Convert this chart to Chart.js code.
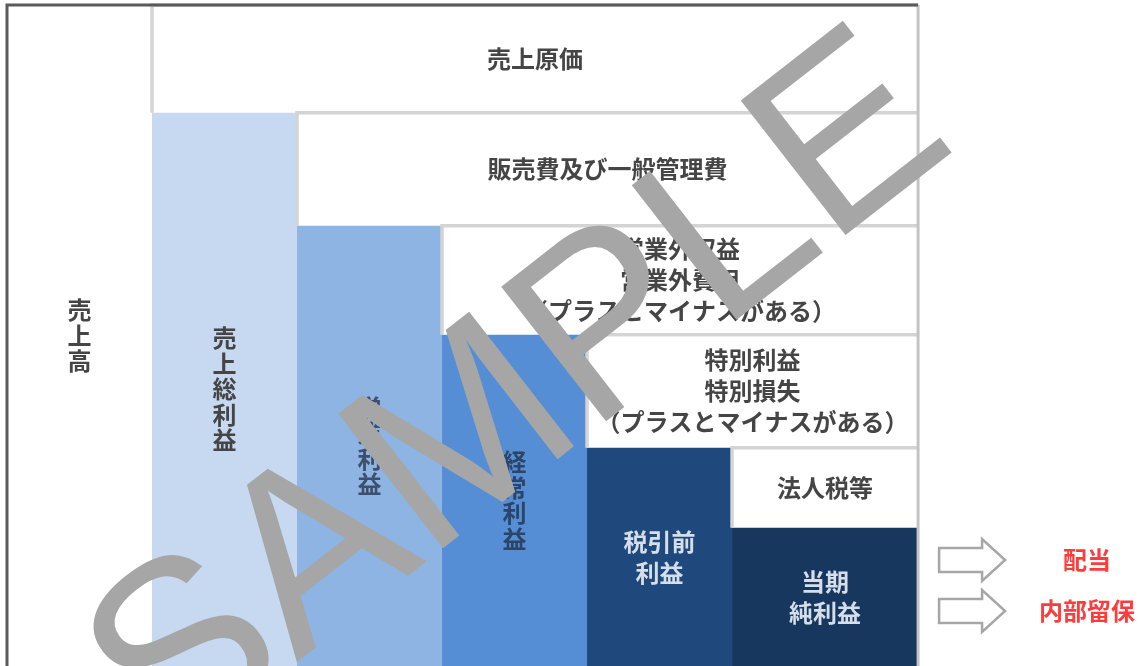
<!DOCTYPE html>
<html>
<head>
<meta charset="utf-8">
<script src="https://cdn.jsdelivr.net/npm/chart.js@4"></script>
<style>
html,body{margin:0;padding:0;background:#ffffff;}
#wrap{width:1144px;height:666px;}
</style>
</head>
<body>
<div id="wrap"><canvas id="c" width="1144" height="666"></canvas></div>
<script>
// ---- data ----
const categories = ['売上高', '売上総利益', '営業利益', '経常利益', '税引前利益', '当期純利益'];
const profitValues = [100, 83.7, 66.6, 50.1, 33.0, 20.9];
const costLabels = [
  ['売上原価'],
  ['販売費及び一般管理費'],
  ['営業外収益', '営業外費用', '（プラスとマイナスがある）'],
  ['特別利益', '特別損失', '（プラスとマイナスがある）'],
  ['法人税等']
];
const profitLabelLines = [
  { vertical: true, lines: ['売上高'] },
  { vertical: true, lines: ['売上総利益'] },
  { vertical: true, lines: ['営業利益'] },
  { vertical: true, lines: ['経常利益'] },
  { vertical: false, lines: ['税引前', '利益'] },
  { vertical: false, lines: ['当期', '純利益'] }
];
const outcomeLabels = ['配当', '内部留保'];

// ---- layout / style ----
const colEdges = [0, 1, 2, 3, 4, 5, 6.283];
const colColors = ['#ffffff', '#c6d9f1', '#8eb4e3', '#558ed5', '#1f497d', '#17375e'];
const colTextColors = ['#454545', '#454545', '#3d4f6b', '#2c4466', '#d6dee9', '#d6dee9'];
const gridGray = '#d4d4d4';
const FONT = '"Noto Sans CJK JP", "Noto Sans", sans-serif';
const xMax = 7.841;
const outcomeY = [560, 611];

const datasets = [];
const end = colEdges[colEdges.length - 1];

// frame lines (drawn on top -> first)
datasets.push({
  data: [{x: 0, y: 0}, {x: 0, y: 100}, {x: end, y: 100}],
  showLine: true, borderColor: '#5a5a5a', borderWidth: 3, pointRadius: 0, fill: false, clip: false
});
datasets.push({
  data: [{x: end, y: 100}, {x: end, y: 0}],
  showLine: true, borderColor: '#c4c4c4', borderWidth: 3, pointRadius: 0, fill: false, clip: false
});
// cost box borders
for (let i = 0; i < costLabels.length; i++) {
  const left = colEdges[i + 1];
  datasets.push({
    data: [{x: left, y: profitValues[i + 1]}, {x: left, y: profitValues[i]}, {x: end, y: profitValues[i]}],
    showLine: true, borderColor: gridGray, borderWidth: 3.5, pointRadius: 0, fill: false, clip: false
  });
}
// column fills
for (let i = 1; i < categories.length; i++) {
  datasets.push({
    data: [{x: colEdges[i], y: profitValues[i]}, {x: colEdges[i + 1], y: profitValues[i]}],
    showLine: true, borderWidth: 0, borderColor: 'rgba(0,0,0,0)', pointRadius: 0,
    backgroundColor: colColors[i], fill: {value: 0}, clip: false
  });
}

function drawLines(ctx, lines, cx, cy, lh) {
  const total = lines.length * lh;
  lines.forEach((t, k) => {
    ctx.fillText(t, cx, cy - total / 2 + lh * k + lh / 2);
  });
}
function drawVertical(ctx, text, cx, cy, lh) {
  const chars = Array.from(text);
  const total = chars.length * lh;
  chars.forEach((ch, k) => {
    ctx.fillText(ch, cx, cy - total / 2 + lh * k + lh / 2);
  });
}

const labelPlugin = {
  id: 'labelPlugin',
  afterDatasetsDraw(chart) {
    const {ctx, scales: {x, y}} = chart;
    ctx.save();
    ctx.font = 'bold 24px ' + FONT;
    ctx.textAlign = 'center';
    ctx.textBaseline = 'middle';
    // profit column labels
    profitLabelLines.forEach((lab, i) => {
      const cx = x.getPixelForValue((colEdges[i] + colEdges[i + 1]) / 2);
      const cy = y.getPixelForValue(profitValues[i] / 2);
      ctx.fillStyle = colTextColors[i];
      if (lab.vertical) drawVertical(ctx, lab.lines[0], cx, cy, 25.5);
      else drawLines(ctx, lab.lines, cx, cy, 31);
    });
    // cost box labels
    ctx.fillStyle = '#454545';
    costLabels.forEach((lines, i) => {
      const cx = x.getPixelForValue((colEdges[i + 1] + end) / 2);
      const cy = y.getPixelForValue((profitValues[i] + profitValues[i + 1]) / 2);
      drawLines(ctx, lines, cx, cy, 31);
    });
    // arrows & outcomes
    const xr = x.getPixelForValue(end);
    outcomeLabels.forEach((t, k) => {
      const cy = outcomeY[k];
      const x0 = xr + 21, x1 = xr + 64, x2 = xr + 87;
      ctx.beginPath();
      ctx.moveTo(x0, cy - 12);
      ctx.lineTo(x1, cy - 12);
      ctx.lineTo(x1, cy - 21);
      ctx.lineTo(x2, cy);
      ctx.lineTo(x1, cy + 21);
      ctx.lineTo(x1, cy + 12);
      ctx.lineTo(x0, cy + 12);
      ctx.closePath();
      ctx.fillStyle = '#ffffff';
      ctx.fill();
      ctx.strokeStyle = '#a6a6a6';
      ctx.lineWidth = 2.5;
      ctx.lineJoin = 'miter';
      ctx.stroke();
      ctx.fillStyle = '#ff3b3b';
      ctx.fillText(t, xr + 169, cy);
    });
    ctx.restore();
  },
  afterDraw(chart) {
    const ctx = chart.ctx;
    ctx.save();
    ctx.translate(166, 764);
    ctx.rotate(-37.9 * Math.PI / 180);
    ctx.font = '248px "Liberation Sans", Arial, sans-serif';
    ctx.fillStyle = '#a6a6a6';
    ctx.textAlign = 'left';
    ctx.textBaseline = 'alphabetic';
    ctx.fillText('SAMPLE', 0, 0);
    ctx.restore();
  }
};

new Chart(document.getElementById('c'), {
  type: 'scatter',
  data: { datasets },
  options: {
    responsive: false,
    animation: false,
    devicePixelRatio: 1,
    layout: { padding: { left: 7, top: 5, right: 0, bottom: 0 } },
    plugins: { legend: { display: false }, tooltip: { enabled: false } },
    elements: { line: { tension: 0 } },
    scales: {
      x: { type: 'linear', min: 0, max: xMax, display: false },
      y: { type: 'linear', min: 0, max: 100, display: false }
    }
  },
  plugins: [labelPlugin]
});
</script>
</body>
</html>
